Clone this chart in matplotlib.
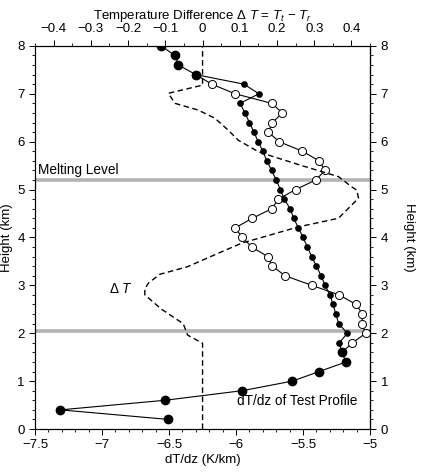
import numpy as np
import matplotlib
matplotlib.use("Agg")
from matplotlib import pyplot as plt
from matplotlib.ticker import MultipleLocator, FuncFormatter

plt.rcParams['font.family'] = ['Liberation Sans', 'DejaVu Sans']
plt.rcParams['mathtext.fontset'] = 'custom'
plt.rcParams['mathtext.rm'] = 'Liberation Sans'
plt.rcParams['mathtext.it'] = 'Liberation Sans:italic'

# dT/dz of the test profile (K/km), every 0.2 km
heights = [0.2, 0.4, 0.6, 0.8, 1.0, 1.2, 1.4, 1.6, 1.8, 2.0,
           2.2, 2.4, 2.6, 2.8, 3.0, 3.2, 3.4, 3.6, 3.8, 4.0,
           4.2, 4.4, 4.6, 4.8, 5.0, 5.2, 5.4, 5.6, 5.8, 6.0,
           6.2, 6.4, 6.6, 6.8, 7.0, 7.2, 7.4, 7.6, 7.8, 8.0]
test_dtdz = [-6.505, -7.31, -6.53, -5.955, -5.58, -5.38, -5.18, -5.21, -5.23, -5.17,
             -5.234, -5.256, -5.276, -5.30, -5.336, -5.366, -5.40, -5.435, -5.468, -5.50,
             -5.535, -5.57, -5.597, -5.64, -5.67, -5.70, -5.735, -5.77, -5.80, -5.835,
             -5.867, -5.90, -5.934, -5.97, -5.83, -5.94, -6.30, -6.43, -6.455, -6.56]

# reference profile between 1.6 and 7.4 km (open circles)
ref_heights = [1.6, 1.8, 2.0, 2.2, 2.4, 2.6, 2.8, 3.0, 3.2, 3.4,
               3.6, 3.8, 4.0, 4.2, 4.4, 4.6, 4.8, 5.0, 5.2, 5.4,
               5.6, 5.8, 6.0, 6.2, 6.4, 6.6, 6.8, 7.0, 7.2, 7.4]
ref_dtdz = [-5.21, -5.132, -5.032, -5.062, -5.057, -5.104, -5.231, -5.435, -5.634, -5.729,
            -5.763, -5.883, -5.953, -6.007, -5.878, -5.734, -5.684, -5.556, -5.405, -5.336,
            -5.381, -5.505, -5.679, -5.759, -5.729, -5.654, -5.734, -6.007, -6.181, -6.30]

# temperature difference Delta T (top axis)
dt_heights = [0.0, 1.79, 1.96, 2.2, 2.5, 2.8, 2.93, 3.05, 3.23, 3.39,
              3.7, 3.88, 4.22, 4.40, 4.82, 4.99, 5.06, 5.27, 5.48, 5.70,
              5.79, 6.03, 6.24, 6.49, 6.66, 6.80, 7.01, 7.18, 8.0]
dt_values = [0.0, 0.0, -0.04, -0.052, -0.11, -0.155, -0.155, -0.145, -0.115, -0.04,
             0.051, 0.105, 0.257, 0.365, 0.419, 0.414, 0.40, 0.365, 0.275, 0.185,
             0.150, 0.096, 0.069, 0.033, -0.012, -0.074, -0.092, 0.0, 0.0]

melting_level = 5.2
lower_level = 2.05


def fmt(v, pos):
	return ('%g' % round(v, 3)).replace('-', '\u2212')


fig = plt.figure(figsize=(4.22, 4.73), dpi=100)
ax = fig.add_axes([0.083, 0.093, 0.794, 0.81])

ax.axhline(melting_level, color='#b3b3b3', lw=2.6, zorder=1)
ax.axhline(lower_level, color='#b3b3b3', lw=2.6, zorder=1)

h = np.array(heights)
v = np.array(test_dtdz)
ax.plot(ref_dtdz, ref_heights, '-', color='k', lw=0.8, marker='o', ms=5.8,
        mfc='white', mec='k', mew=0.7, zorder=3)
ax.plot(v, h, '-', color='k', lw=0.8, marker='o', ms=3.8, mfc='k', mec='k', zorder=4)
big = (h < 1.7) | (h > 7.3)
ax.plot(v[big], h[big], 'o', ms=6, mfc='k', mec='k', zorder=5)

ax.set_xlim(-7.5, -5)
ax.set_ylim(0, 8)
ax.xaxis.set_major_locator(MultipleLocator(0.5))
ax.xaxis.set_minor_locator(MultipleLocator(0.1))
ax.yaxis.set_major_locator(MultipleLocator(1))
ax.yaxis.set_minor_locator(MultipleLocator(0.2))
ax.xaxis.set_major_formatter(FuncFormatter(fmt))
ax.tick_params(which='both', direction='out', labelsize=9.5, right=True, labelright=True)
ax.tick_params(which='major', length=4, width=0.7)
ax.tick_params(which='minor', length=2, width=0.6)
ax.set_xlabel('dT/dz (K/km)', fontsize=9.5, labelpad=2)
ax.set_ylabel('Height (km)', fontsize=9.5, labelpad=3)
axr = ax.secondary_yaxis('right')
axr.set_yticks([])
axr.set_ylabel('Height (km)', fontsize=9.5, rotation=270, labelpad=32)

ax.text(-7.48, melting_level + 0.06, 'Melting Level', fontsize=9.8, ha='left', va='bottom')
ax.text(-6.95, 2.93, '\u0394 $T$', fontsize=9.8, ha='left', va='center')
ax.text(-5.99, 0.58, 'dT/dz of Test Profile', fontsize=9.8, ha='left', va='center')

axt = ax.twiny()
axt.plot(dt_values, dt_heights, '--', color='k', lw=1.0, dashes=(4, 2.5), zorder=2)
axt.set_xlim(-0.45, 0.45)
axt.xaxis.set_major_locator(MultipleLocator(0.1))
axt.xaxis.set_minor_locator(MultipleLocator(0.05))
axt.xaxis.set_major_formatter(FuncFormatter(fmt))
axt.tick_params(which='both', direction='out', labelsize=9.5)
axt.tick_params(which='major', length=4, width=0.7)
axt.tick_params(which='minor', length=2, width=0.6)
axt.set_xlabel('Temperature Difference \u0394 $T$ = $T_t$ \u2212 $T_r$', fontsize=9.5, labelpad=3)

for a in (ax, axt):
	for s in a.spines.values():
		s.set_linewidth(0.8)

fig.savefig('out.png', dpi=100)
